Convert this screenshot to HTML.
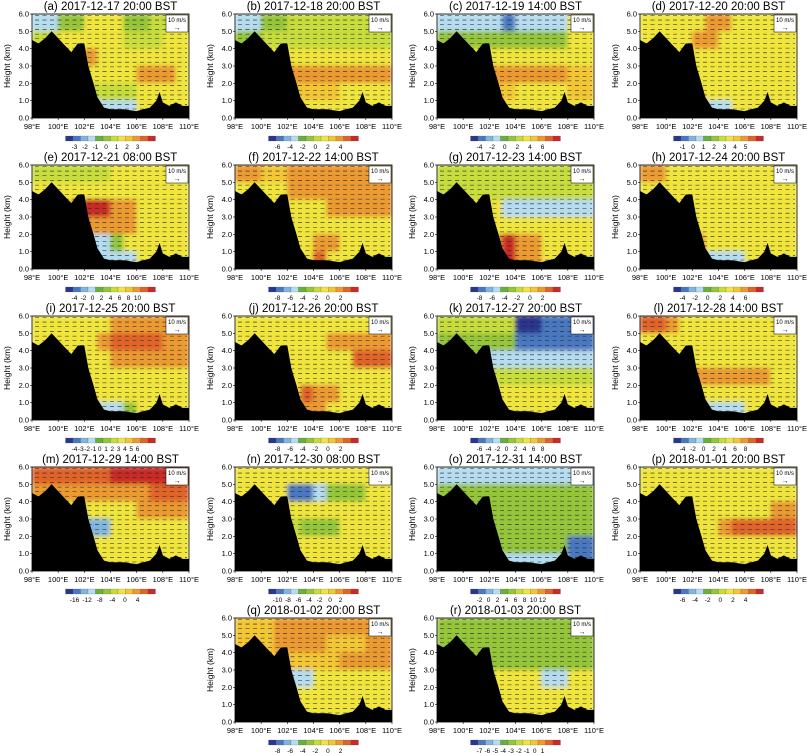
<!DOCTYPE html>
<html><head><meta charset="utf-8">
<style>
html,body{margin:0;padding:0;background:#fff;}
svg{display:block;font-family:"Liberation Sans",Arial,sans-serif;}
</style></head>
<body>
<svg id="fig" width="807" height="753" viewBox="0 0 807 753">
<defs>
<filter id="soft" x="0" y="0" width="1" height="1" filterUnits="objectBoundingBox">
<feGaussianBlur stdDeviation="2.2" edgeMode="duplicate"/>
</filter>
</defs>
</svg>
<script>
const palette=["#2a3590","#4a78c0","#7fb6e0","#b5dcef","#6aae3c","#95c53a","#c7dc3c","#efe53e","#f3c634","#eb9a30","#e0642a","#c92a26"];
const panelTitles=["(a)  2017-12-17 20:00 BST","(b)  2017-12-18 20:00 BST","(c)  2017-12-19 14:00 BST","(d)  2017-12-20 20:00 BST","(e)  2017-12-21 08:00 BST","(f)  2017-12-22 14:00 BST","(g)  2017-12-23 14:00 BST","(h)  2017-12-24 20:00 BST","(i)  2017-12-25 20:00 BST","(j)  2017-12-26 20:00 BST","(k)  2017-12-27 20:00 BST","(l)  2017-12-28 14:00 BST","(m)  2017-12-29 14:00 BST","(n)  2017-12-30 08:00 BST","(o)  2017-12-31 14:00 BST","(p)  2018-01-01 20:00 BST","(q)  2018-01-02 20:00 BST","(r)  2018-01-03 20:00 BST"];
const colorbarLabels=[["-3","-2","-1","0","1","2","3"],["-6","-4","-2","0","2","4"],["-4","-2","0","2","4","6"],["-1","0","1","2","3","4","5"],["-4","-2","0","2","4","6","8","10"],["-8","-6","-4","-2","0","2"],["-8","-6","-4","-2","0","2"],["-4","-2","0","2","4","6"],["-4","-3","-2","-1","0","1","2","3","4","5","6"],["-8","-6","-4","-2","0","2"],["-6","-4","-2","0","2","4","6","8"],["-4","-2","0","2","4","6","8"],["-16","-12","-8","-4","0","4"],["-10","-8","-6","-4","-2","0","2"],["-2","0","2","4","6","8","10","12"],["-6","-4","-2","0","2","4"],["-8","-6","-4","-2","0","2"],["-7","-6","-5","-4","-3","-2","-1","0","1"]];
// field grids: 6 height bands (top 6-5 km first) x 12 longitude bins (98-110E), palette index in hex
const fieldA=["335577755666","667777766677","777797777777","777977779997","775566667777","777733337777"];
const fieldB=["335566666666","556666666666","777777777777","777999999999","777888887777","777777777777"];
const fieldC=["333331333377","555555555577","777777777777","779999999988","777788777788","777777777777"];
const fieldD=["777779977777","777799777777","777777777777","777777777777","777777777777","775533377777"];
const fieldE=["666666777777","777777777777","777abb997777","777999997777","777733577777","777733337777"];
const fieldF=["998899999999","777799999999","777777799999","777777777777","777777997777","777777a77777"];
const fieldG=["666666666666","666666666666","777773333333","777777777777","77779b997777","7777ab997777"];
const fieldH=["997777777777","777777777777","777777777777","777777777777","777797777777","777733337777"];
const fieldI=["777777999999","777779aaaa99","777777999999","777777777777","777777777777","777733357777"];
const fieldJ=["777777777777","777777799999","777777777aaa","777777777777","77777a997777","777779977777"];
const fieldK=["666666001111","555555111111","555533333333","555566666666","777777777777","777777777777"];
const fieldL=["aa9777777777","777777777777","777777777777","777799999977","777777777777","777733337777"];
const fieldM=["aaaaaabbbbbb","999999999aaa","777777779999","777122777777","777777777777","777777777777"];
const fieldN=["777777777777","777711355577","777777777777","777765557777","777777777777","777777777777"];
const fieldO=["333333333333","555555555555","555555555555","555555555555","555555555511","555533333311"];
const fieldP=["777777777777","777777777777","777777777799","7777779aaaaa","777777777777","777777777777"];
const fieldQ=["888999999999","888999988899","888888889999","777333777777","777777777777","777777777777"];
const fieldR=["555555555555","555555555555","555555555555","777777773377","777777777777","777777777777"];
const fields=[fieldA,fieldB,fieldC,fieldD,fieldE,fieldF,fieldG,fieldH,fieldI,fieldJ,fieldK,fieldL,fieldM,fieldN,fieldO,fieldP,fieldQ,fieldR];
const terrainLon=[98,98.5,99,99.5,100,100.5,101,101.5,102,102.3,102.7,103,103.5,104,104.5,105,105.5,106,106.5,107,107.5,107.75,108,108.5,109,109.5,110];
const terrainHeight=[4.5,4.3,4.6,5.0,4.6,4.2,3.8,4.3,4.3,3.0,2.0,1.2,0.6,0.5,0.5,0.5,0.45,0.4,0.5,0.6,1.0,1.5,0.9,0.7,0.9,0.7,0.7];
const xTicks=[98,100,102,104,106,108,110];
const yTicks=[0,1,2,3,4,5,6];

const NS="http://www.w3.org/2000/svg";
const svg=document.getElementById('fig');
function mk(tag,attrs,parent){const e=document.createElementNS(NS,tag);for(const k in attrs)e.setAttribute(k,attrs[k]);(parent||svg).appendChild(e);return e;}
const colX=[32,235,437,640], rowY=[14,165,316,467,618], PW=157, PH=104;
const positions=[];
for(let i=0;i<16;i++)positions.push([colX[i%4],rowY[Math.floor(i/4)]]);
positions.push([colX[1],rowY[4]]);positions.push([colX[2],rowY[4]]);

fields.forEach((field,p)=>{
  const [x0,y0]=positions[p];
  const sx=lon=>x0+(lon-98)/12*PW;
  const sy=h=>y0+PH-h/6*PH;
  const g=mk('g',{});
  
  
  const t=mk('text',{x:x0+PW/2,y:y0-4,'text-anchor':'middle','font-size':11.5,fill:'#000'},g);t.textContent=panelTitles[p];
  
  const cg=mk('g',{filter:'url(#soft)'},g);
  
  field.forEach((row,r)=>{
    for(let c=0;c<row.length;c++){
      const v=parseInt(row[c],16);
      const h1=6-r, lon=98+c;
      mk('rect',{x:sx(lon)-0.3,y:sy(h1)-0.3,width:PW/12+0.6,height:PH/6+0.6,fill:palette[v]},cg);
    }
  });
  // wind vectors
  const vg=mk('g',{},g);
  
  for(let h=0.25;h<6;h+=0.27){
    mk('line',{x1:x0+3,x2:x0+PW-2,y1:sy(h),y2:sy(h),stroke:'#222','stroke-width':0.55,'stroke-dasharray':'4 3.5'},vg);
  }
  // terrain
  let d='M'+sx(98)+','+sy(0);
  terrainLon.forEach((l,i)=>{d+=' L'+sx(l).toFixed(1)+','+sy(terrainHeight[i]).toFixed(1);});
  d+=' L'+sx(110)+','+sy(0)+' Z';
  const tp=mk('path',{d:d,fill:'#000'},g);
  
  mk('rect',{x:x0,y:y0,width:PW,height:PH,fill:'none',stroke:'#000','stroke-width':0.8},g);
  // reference vector box
  const rb=mk('g',{},g);
  
  mk('rect',{x:x0+PW-23,y:y0+1,width:22,height:17,fill:'#fff',stroke:'#000','stroke-width':0.5},rb);
  const rt=mk('text',{x:x0+PW-12,y:y0+8,'text-anchor':'middle','font-size':6},rb);rt.textContent='10 m/s';
  const ra=mk('text',{x:x0+PW-12,y:y0+16,'text-anchor':'middle','font-size':7},rb);ra.textContent='→';
  // axes
  xTicks.forEach(v=>{
    mk('line',{x1:sx(v),x2:sx(v),y1:y0+PH,y2:y0+PH+2,stroke:'#000','stroke-width':0.6},g);
    const tx=mk('text',{x:sx(v),y:y0+PH+11,'text-anchor':'middle','font-size':7.5},g);tx.textContent=v+'°E';
    
  });
  yTicks.forEach(v=>{
    mk('line',{x1:x0-2,x2:x0,y1:sy(v),y2:sy(v),stroke:'#000','stroke-width':0.6},g);
    const ty=mk('text',{x:x0-3,y:sy(v)+2.5,'text-anchor':'end','font-size':7.5},g);ty.textContent=v.toFixed(1);
    
  });
  const yl=mk('text',{x:0,y:0,'text-anchor':'middle','font-size':8.5,transform:`translate(${x0-22},${y0+PH/2}) rotate(-90)`},g);
  yl.textContent='Height (km)';
  
  // colorbar
  const cb=mk('g',{},g);
  
  const cbw=90, cbx=x0+PW/2-cbw/2, cby=y0+PH+18;
  palette.forEach((col,i)=>{mk('rect',{x:cbx+i*cbw/12,y:cby,width:cbw/12,height:5,fill:col,stroke:'#555','stroke-width':0.2},cb);});
  const labs=colorbarLabels[p];
  labs.forEach((l,i)=>{
    const lx=cbx+cbw*0.1+ (labs.length>1? i*(cbw*0.7)/(labs.length-1):0);
    const lt=mk('text',{x:lx,y:cby+13,'text-anchor':'middle','font-size':6.5},cb);lt.textContent=l;
  });
});
</script>
</body></html>
